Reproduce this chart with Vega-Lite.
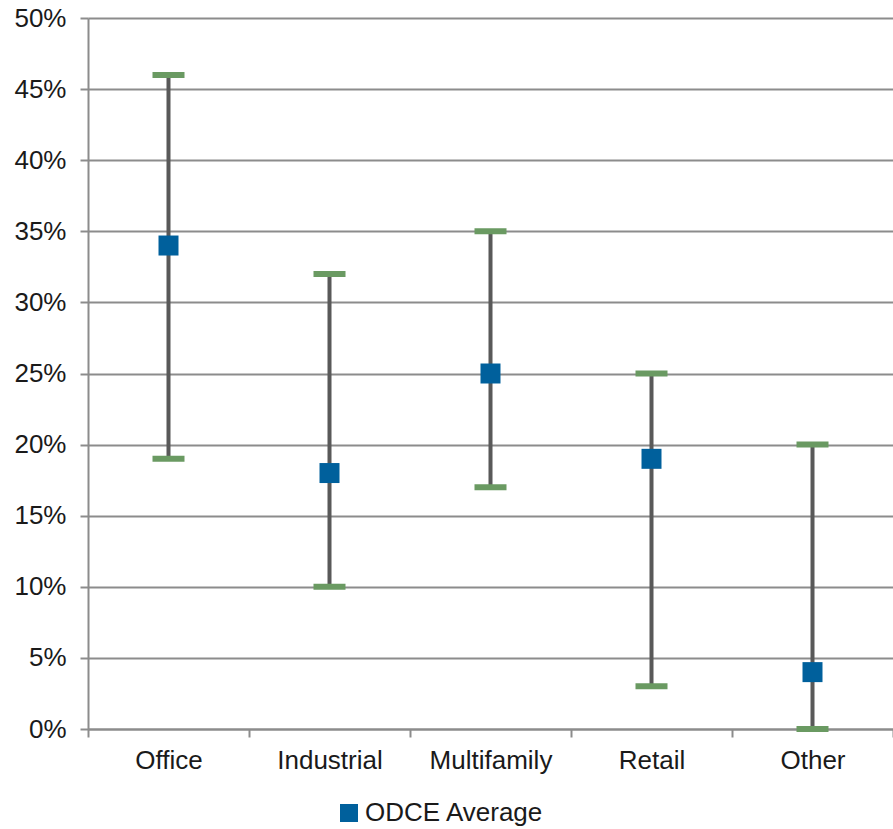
{
  "$schema": "https://vega.github.io/schema/vega-lite/v6.json",
  "width": 805,
  "height": 711,
  "autosize": {"type": "none"},
  "padding": {"left": 88, "top": 18, "right": 0, "bottom": 100},
  "background": "white",
  "config": {
    "view": {"stroke": null},
    "font": "Liberation Sans",
    "axis": {"labelFont": "Liberation Sans", "labelFontSize": 26, "labelColor": "#1a1a1a", "labelOverlap": false}
  },
  "data": {
    "values": [
      {"category": "Office", "low": 0.19, "high": 0.46, "avg": 0.34, "series": "ODCE Average"},
      {"category": "Industrial", "low": 0.10, "high": 0.32, "avg": 0.18, "series": "ODCE Average"},
      {"category": "Multifamily", "low": 0.17, "high": 0.35, "avg": 0.25, "series": "ODCE Average"},
      {"category": "Retail", "low": 0.03, "high": 0.25, "avg": 0.19, "series": "ODCE Average"},
      {"category": "Other", "low": 0.00, "high": 0.20, "avg": 0.04, "series": "ODCE Average"}
    ]
  },
  "encoding": {
    "x": {
      "field": "category",
      "type": "nominal",
      "sort": null,
      "scale": {"paddingInner": 0, "paddingOuter": 0},
      "axis": {
        "title": null,
        "labelAngle": 0,
        "tickBand": "extent",
        "domainColor": "#8c8c8c",
        "domainWidth": 2,
        "tickColor": "#8c8c8c",
        "tickWidth": 2,
        "tickSize": 8,
        "labelPadding": 10,
        "grid": false
      }
    }
  },
  "layer": [
    {
      "mark": {"type": "rule", "color": "#595959", "strokeWidth": 4},
      "encoding": {
        "y": {
          "field": "low",
          "type": "quantitative",
          "scale": {"domain": [0, 0.5], "nice": false},
          "axis": {
            "title": null,
            "format": ".0%",
            "values": [0, 0.05, 0.1, 0.15, 0.2, 0.25, 0.3, 0.35, 0.4, 0.45, 0.5],
            "grid": true,
            "gridColor": "#8c8c8c",
            "gridWidth": 2,
            "domainColor": "#8c8c8c",
            "domainWidth": 2,
            "tickColor": "#8c8c8c",
            "tickWidth": 2,
            "tickSize": 8,
            "labelPadding": 14,
            "zindex": 0
          }
        },
        "y2": {"field": "high"}
      }
    },
    {
      "mark": {"type": "tick", "color": "#6a9a62", "size": 32, "thickness": 6, "opacity": 1},
      "encoding": {"y": {"field": "low", "type": "quantitative"}}
    },
    {
      "mark": {"type": "tick", "color": "#6a9a62", "size": 32, "thickness": 6, "opacity": 1},
      "encoding": {"y": {"field": "high", "type": "quantitative"}}
    },
    {
      "mark": {"type": "point", "shape": "square", "filled": true, "size": 400, "opacity": 1},
      "encoding": {
        "y": {"field": "avg", "type": "quantitative"},
        "color": {
          "field": "series",
          "type": "nominal",
          "scale": {"range": ["#00609c"]},
          "legend": {
            "title": null,
            "orient": "none",
            "legendX": 248,
            "legendY": 782,
            "symbolType": "square",
            "symbolSize": 324,
            "symbolOpacity": 1,
            "labelFontSize": 26,
            "labelLimit": 400,
            "labelFont": "Liberation Sans",
            "labelColor": "#1a1a1a",
            "labelOffset": 3
          }
        }
      }
    }
  ]
}
